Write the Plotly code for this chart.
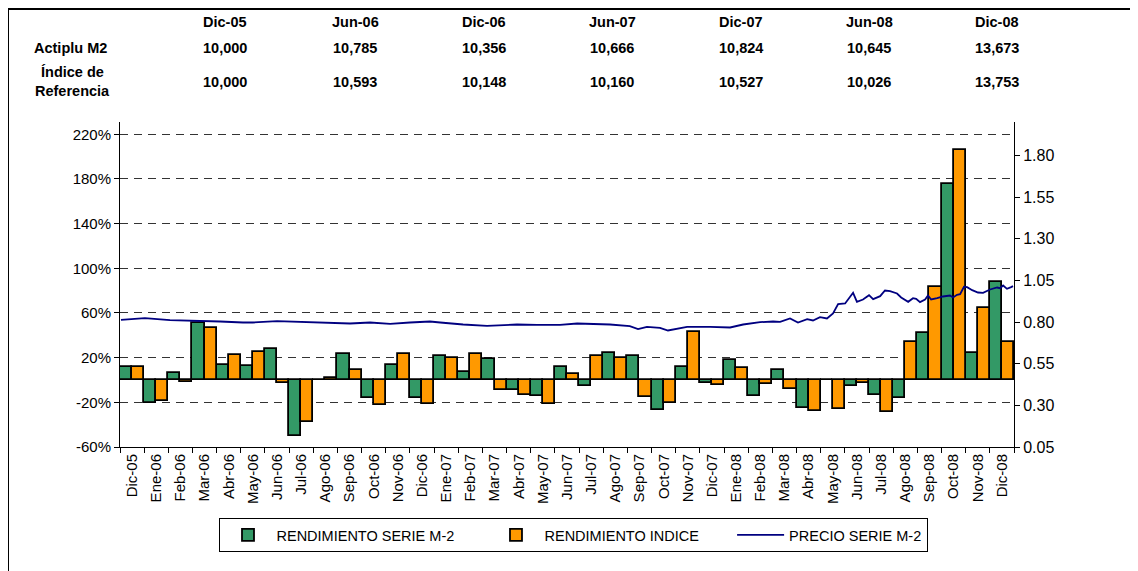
import plotly.graph_objects as go

meses = ["Dic-05", "Ene-06", "Feb-06", "Mar-06", "Abr-06", "May-06", "Jun-06", "Jul-06",
         "Ago-06", "Sep-06", "Oct-06", "Nov-06", "Dic-06", "Ene-07", "Feb-07", "Mar-07",
         "Abr-07", "May-07", "Jun-07", "Jul-07", "Ago-07", "Sep-07", "Oct-07", "Nov-07",
         "Dic-07", "Ene-08", "Feb-08", "Mar-08", "Abr-08", "May-08", "Jun-08", "Jul-08",
         "Ago-08", "Sep-08", "Oct-08", "Nov-08", "Dic-08"]

# rendimientos mensuales anualizados (%)
rend_serie = [12, -21, 6.6, 51.3, 13.7, 12.8, 27.5, -50, 0.3, 23.4, -16.4, 13.7, -15.8,
              21.8, 7.2, 18.5, -9, -14.3, 11.6, -5.7, 24.5, 21.5, -26.9, 11.6, -2.4,
              18.2, -14.3, 8.6, -25, -0.3, -5.4, -13.4, -16.1, 42.1, 175.8, 24.2, 87.5]
rend_indice = [12, -19, -1.8, 46.3, 22.7, 25, -3, -37.6, 1.8, 9.3, -22.7, 23.3, -21.8,
               20, 23, -9, -13.7, -21.8, 5.7, 21.5, 19.4, -15.5, -20.6, 42.7, -4.8,
               11, -3.6, -8, -27.8, -26.3, -2.7, -28.7, 33.7, 83.6, 206.3, 64.2, 33.7]

# precio de la serie (posicion en meses desde Dic-05)
precio_pos = [-0.46, 0.53, 1.57, 2.52, 3.64, 4.59, 5.0, 6.0, 6.83, 7.9, 8.6, 9.02, 9.85,
              10.68, 11.5, 12.33, 12.75, 13.7, 14.69, 15.93, 16.76, 17.71, 18.42, 19.78,
              20.6, 20.94, 21.31, 21.85, 22.18, 22.55, 22.97, 23.92, 24.75, 25.29, 25.99,
              26.53, 26.82, 27.23, 27.56, 27.94, 28.18, 28.47, 28.76, 29.01, 29.22, 29.51,
              29.84, 30.0, 30.25, 30.5, 30.67, 30.96, 31.16, 31.37, 31.66, 31.83, 32.12,
              32.32, 32.45, 32.61, 32.82, 32.94, 33.07, 33.32, 33.56, 33.85, 33.98, 34.14,
              34.27, 34.43, 34.56, 34.77, 35.01, 35.22, 35.51, 35.8, 35.92, 36.05, 36.21,
              36.38, 36.46]
precio_serie = [0.813, 0.823, 0.811, 0.809, 0.803, 0.797, 0.797, 0.805, 0.801, 0.797, 0.791,
                0.791, 0.797, 0.789, 0.797, 0.803, 0.797, 0.785, 0.777, 0.785, 0.783, 0.783,
                0.791, 0.785, 0.775, 0.757, 0.771, 0.765, 0.749, 0.759, 0.771, 0.771, 0.767,
                0.785, 0.799, 0.803, 0.801, 0.821, 0.797, 0.817, 0.809, 0.829, 0.821, 0.851,
                0.907, 0.911, 0.975, 0.921, 0.935, 0.961, 0.937, 0.955, 0.989, 0.985, 0.971,
                0.947, 0.921, 0.943, 0.939, 0.919, 0.935, 0.959, 0.935, 0.943, 0.953, 0.959,
                0.947, 0.963, 0.967, 1.011, 1.009, 0.991, 0.977, 0.975, 0.995, 1.007, 1.003,
                1.019, 0.999, 1.009, 1.015]

# tabla superior
fechas_tabla = ["Dic-05", "Jun-06", "Dic-06", "Jun-07", "Dic-07", "Jun-08", "Dic-08"]
actiplu_m2 = ["10,000", "10,785", "10,356", "10,666", "10,824", "10,645", "13,673"]
indice_ref = ["10,000", "10,593", "10,148", "10,160", "10,527", "10,026", "13,753"]

W, H = 1138, 571
OFF = 8  # margen del body de la pagina
L, T = 120, 122
pw, ph = 894, 325


def px(x):
    return (x - L) / pw


def py(y):
    return (T + ph - y) / ph


idx = list(range(len(meses)))
fnt = dict(family="Arial, Liberation Sans", color="black")
izq = list(range(-60, 221, 40))
sep = "&nbsp;" * 7

fig = go.Figure()
fig.add_trace(go.Bar(x=idx, y=rend_serie, name="RENDIMIENTO SERIE M-2" + sep,
                     marker=dict(color="#339966", line=dict(color="black", width=1.8))))
fig.add_trace(go.Bar(x=idx, y=rend_indice, name="RENDIMIENTO INDICE" + sep,
                     marker=dict(color="#FF9900", line=dict(color="black", width=1.8))))
fig.add_trace(go.Scatter(x=precio_pos, y=precio_serie, name="PRECIO SERIE M-2", yaxis="y2",
                         mode="lines", line=dict(color="#000080", width=1.8)))

fig.update_layout(
    width=W, height=H,
    margin=dict(l=L - OFF, r=W - (L - OFF) - pw, t=T - OFF, b=H - (T - OFF) - ph,
                autoexpand=False),
    plot_bgcolor="white", paper_bgcolor="white",
    barmode="group", bargap=0, bargroupgap=0,
    font=dict(family="Arial, Liberation Sans", size=14, color="black"),
    showlegend=True,
    legend=dict(orientation="h", x=px(573), xanchor="center", y=py(518), yanchor="top",
                bordercolor="black", borderwidth=1, font=dict(size=14.5),
                itemwidth=47, traceorder="normal"),
    xaxis=dict(range=[-0.5, 36.5], tickvals=idx, ticktext=meses, tickangle=-90,
               ticks="", showgrid=False, zeroline=False, showline=True,
               linecolor="black", linewidth=1, tickfont=dict(size=15),
               minor=dict(ticks="outside", tick0=-0.5, dtick=1, ticklen=5,
                          tickcolor="black", showgrid=False)),
    yaxis=dict(range=[-60, 231], tickvals=izq, ticktext=["%d%%" % v for v in izq],
               ticks="outside", ticklen=5, tickcolor="black", showline=True,
               linecolor="black", linewidth=1, zeroline=False,
               showgrid=True, gridcolor="#333333", griddash="8px,6px", gridwidth=1,
               tickfont=dict(size=15)),
    yaxis2=dict(range=[0.05, 2.0], tickvals=[0.05, 0.30, 0.55, 0.80, 1.05, 1.30, 1.55, 1.80],
                tickformat=".2f", overlaying="y", side="right", ticks="outside",
                ticklen=5, tickcolor="black", showline=True, linecolor="black",
                linewidth=1, showgrid=False, zeroline=False, tickfont=dict(size=16)),
)

col_x = [225, 355, 484, 612, 741, 869, 997]
for cx, f, a, r in zip(col_x, fechas_tabla, actiplu_m2, indice_ref):
    fig.add_annotation(x=px(cx), y=py(22), text="<b>%s</b>" % f)
    fig.add_annotation(x=px(cx), y=py(48), text="<b>%s</b>" % a)
    fig.add_annotation(x=px(cx), y=py(82), text="<b>%s</b>" % r)
fig.add_annotation(x=px(70), y=py(48), text="<b>Actiplu M2</b>")
fig.add_annotation(x=px(72), y=py(72), text="<b>Índice de</b>")
fig.add_annotation(x=px(72), y=py(91), text="<b>Referencia</b>")
fig.update_annotations(xref="paper", yref="paper", showarrow=False, xanchor="center",
                       yanchor="middle", font=dict(size=14.5, **fnt))

# marco exterior
fig.add_shape(type="line", xref="paper", yref="paper", x0=px(5), x1=px(W + 20), y0=py(8), y1=py(8),
              line=dict(color="black", width=4))
fig.add_shape(type="line", xref="paper", yref="paper", x0=px(7), x1=px(7), y0=py(6), y1=py(H + 20),
              line=dict(color="black", width=4))

fig.write_html("out.html")
